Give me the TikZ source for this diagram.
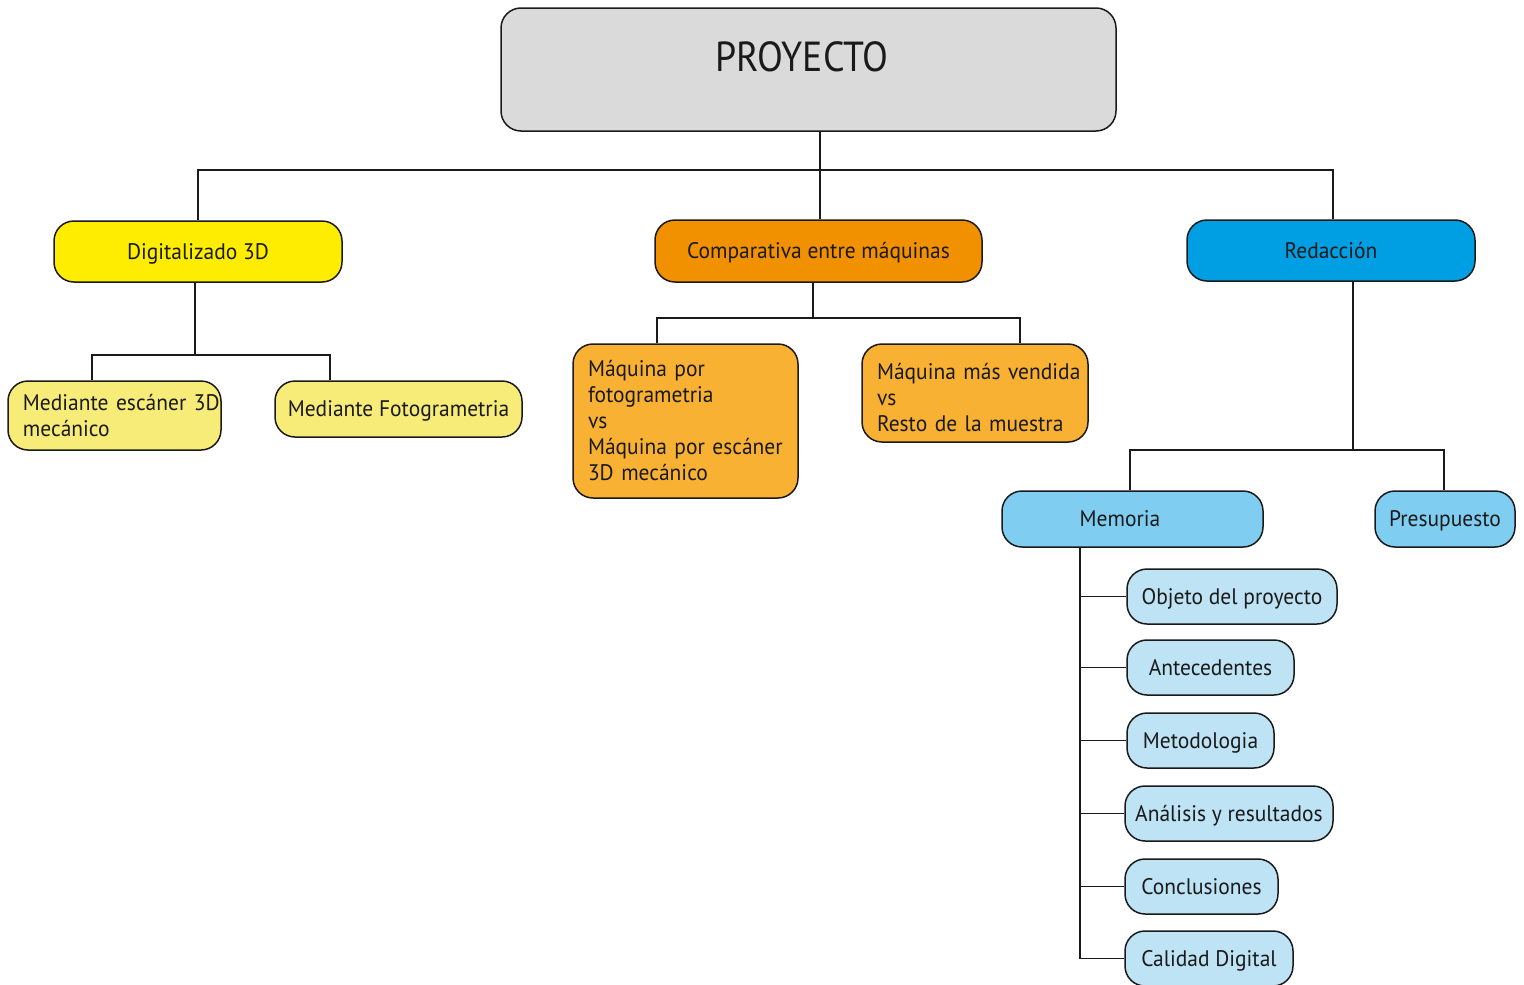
\documentclass[tikz,border=0pt]{standalone}
\usepackage{fontspec}
\setmainfont{PT Sans}[FakeStretch=0.955]
\usetikzlibrary{calc}
\definecolor{cgray}{HTML}{DADADA}
\definecolor{cyel}{HTML}{FFED00}
\definecolor{clyel}{HTML}{F8EC79}
\definecolor{corg}{HTML}{F29100}
\definecolor{clorg}{HTML}{F8B133}
\definecolor{cblue}{HTML}{009FE3}
\definecolor{cmblue}{HTML}{7FCEF2}
\definecolor{clblue}{HTML}{BDE3F5}
\definecolor{ctext}{HTML}{1A1A1A}
\begin{document}
\begin{tikzpicture}[x=1pt,y=-1pt,
  box/.style={draw=ctext, line width=1.5pt, rounded corners=20pt, inner sep=0pt,
    text=ctext, font=\fontsize{22.5}{26}\selectfont},
  sbox/.style={box, text height=15.5pt, text depth=0pt},
  lbox/.style={box, align=left, text width=#1, inner xsep=15pt},
  wire/.style={draw=ctext, line width=1.6pt}]
\useasboundingbox (0,0) rectangle (1524,985);

% top
\node[box, fill=cgray, minimum width=615pt, minimum height=123pt] (proy) at (808.5,69.5) {};
\node[text=ctext, font=\fontsize{42}{44}\selectfont\addfontfeatures{FakeStretch=0.9}] (proytext) at (802,57) {PROYECTO};

% level 1
\node[sbox, fill=cyel, minimum width=288pt, minimum height=61pt] (dig) at (198,251.5) {Digitalizado 3D};
\node[sbox, fill=corg, minimum width=327pt, minimum height=62pt] (comp) at (818.5,251) {Comparativa entre máquinas};
\node[sbox, fill=cblue, minimum width=288pt, minimum height=61pt] (red) at (1331,250.5) {Redacción};

% Digitalizado children
\node[lbox=183pt, fill=clyel, minimum height=69pt] (med1) at (114.5,415.5) {\mbox{Mediante escáner 3D}\\\mbox{mecánico}};
\node[sbox, fill=clyel, minimum width=247pt, minimum height=56pt] (med2) at (398.5,409) {Mediante Fotogrametria};

% Comparativa children
\node[lbox=195pt, fill=clorg, minimum height=154pt] (fot) at (685.5,421) {\mbox{Máquina por}\\\mbox{fotogrametria}\\vs\\\mbox{Máquina por escáner}\\\mbox{3D mecánico}};
\node[lbox=196pt, fill=clorg, minimum height=98pt] (vend) at (975,393) {\rule{0pt}{26pt}\mbox{Máquina más vendida}\\vs\\\mbox{Resto de la muestra}};

% Redaccion children
\node[sbox, fill=cmblue, minimum width=261pt, minimum height=56pt] (mem) at (1132.5,519) {\hspace*{-25pt}Memoria};
\node[sbox, fill=cmblue, minimum width=140pt, minimum height=56pt] (pres) at (1445,519) {Presupuesto};

% Memoria children
\node[sbox, fill=clblue, minimum width=210pt, minimum height=55pt] (obj) at (1232,596.5) {Objeto del proyecto};
\node[sbox, fill=clblue, minimum width=167pt, minimum height=55pt] (ant) at (1210.5,667.5) {Antecedentes};
\node[sbox, fill=clblue, minimum width=147pt, minimum height=55pt] (met) at (1200.5,740.5) {Metodologia};
\node[sbox, fill=clblue, minimum width=208pt, minimum height=55pt] (ana) at (1229,813.5) {Análisis y resultados};
\node[sbox, fill=clblue, minimum width=153pt, minimum height=55pt] (con) at (1201.5,886.5) {Conclusiones};
\node[sbox, fill=clblue, minimum width=168pt, minimum height=55pt] (cal) at (1209,958.5) {Calidad Digital};

% connectors
\coordinate (bus1) at (820,170);
\draw[wire] (proy.south -| bus1) -- (comp.north -| bus1);
\draw[wire] (dig.north) |- (bus1) -| (red.north -| 1333,0);

\coordinate (d1) at (92,355);
\coordinate (d2) at (330,355);
\draw[wire] (dig.south -| 195,0) -- (195,355);
\draw[wire] (med1.north -| d1) -- (d1) -- (d2) -- (med2.north -| d2);

\coordinate (c1) at (657,318);
\coordinate (c2) at (1020,318);
\draw[wire] (comp.south -| 813,0) -- (813,318);
\draw[wire] (fot.north -| c1) -- (c1) -- (c2) -- (vend.north -| c2);

\coordinate (r1) at (1130,450);
\coordinate (r2) at (1444,450);
\draw[wire] (red.south -| 1353,0) -- (1353,450);
\draw[wire] (mem.north -| r1) -- (r1) -- (r2) -- (pres.north -| r2);

\coordinate (trunk) at (1080,0);
\draw[wire] (mem.south -| trunk) -- (cal.west -| trunk) -- (cal.west);
\foreach \n in {obj,ant,met,ana,con}
  \draw[wire] (\n.west -| trunk) -- (\n.west);
\end{tikzpicture}
\end{document}
